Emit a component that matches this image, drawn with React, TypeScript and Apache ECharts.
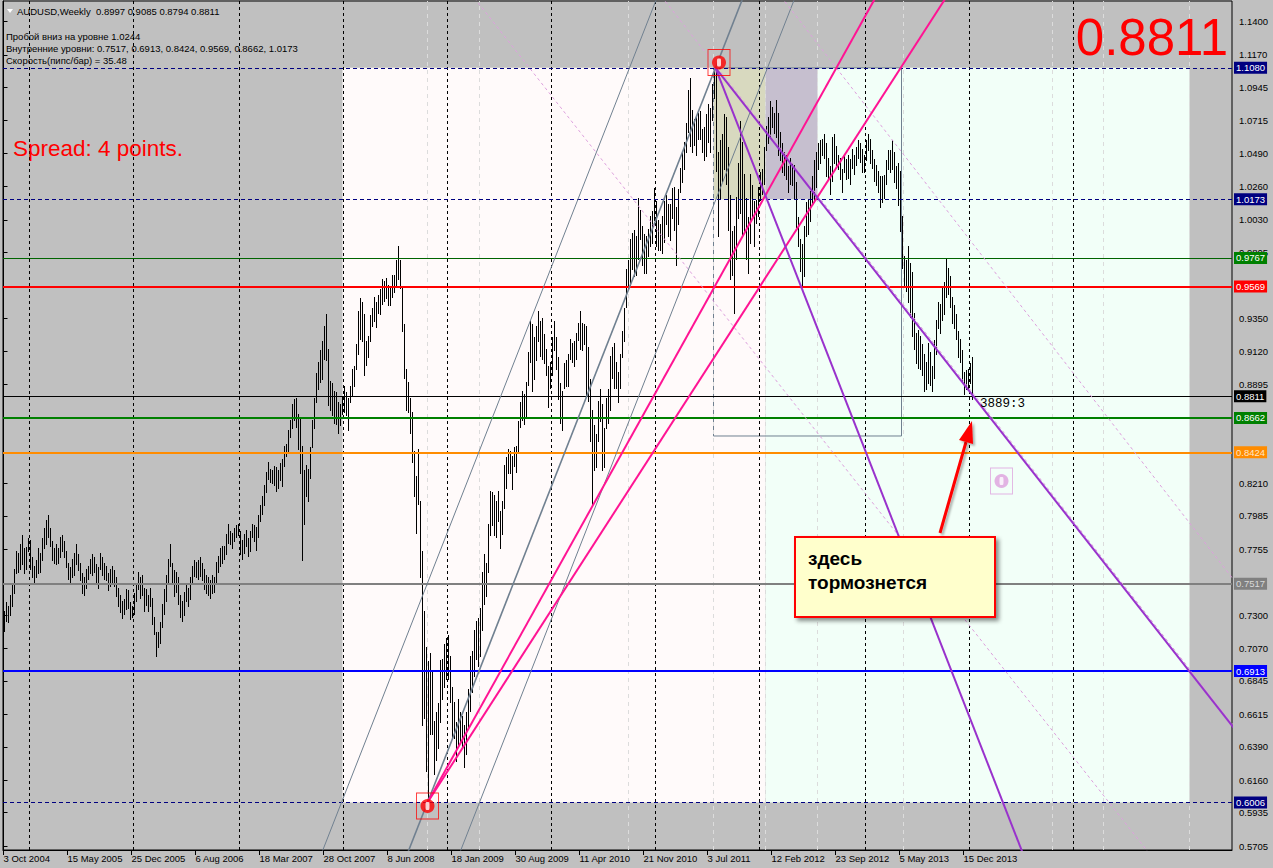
import React, { useEffect, useRef } from 'react';
import * as echarts from 'echarts';

const FONT = "'Liberation Sans', Arial, sans-serif";

// ---------------- axis labels ----------------
const dateLabels = ['3 Oct 2004', '15 May 2005', '25 Dec 2005', '6 Aug 2006', '18 Mar 2007', '28 Oct 2007', '8 Jun 2008', '18 Jan 2009', '30 Aug 2009', '11 Apr 2010', '21 Nov 2010', '3 Jul 2011', '12 Feb 2012', '23 Sep 2012', '5 May 2013', '15 Dec 2013'];
const dateLabelBars = [0, 32, 64, 96, 128, 160, 192, 224, 256, 288, 320, 352, 384, 416, 448, 480];
const yearStartBars = [13, 65, 118, 170, 222, 274, 326, 378, 431, 483, 535];
const cycleBars = [212, 238, 312.5, 355, 381, 407, 450, 524.5, 550, 593];
const priceTicks = [1.14, 1.117, 1.0945, 1.0715, 1.049, 1.026, 1.003, 0.9805, 0.935, 0.912, 0.8895, 0.821, 0.7985, 0.7755, 0.73, 0.707, 0.6845, 0.6615, 0.639, 0.616, 0.5935, 0.5705];

// ---------------- horizontal levels ----------------
const levelPrices = [1.108, 1.0173, 0.9767, 0.9569, 0.8811, 0.8662, 0.8424, 0.7517, 0.6913, 0.6006];
const levelStyles = [
  { color: '#000080', width: 1, dash: true, bg: '#000080', fg: '#ffffff' },
  { color: '#000080', width: 1, dash: true, bg: '#000080', fg: '#ffffff' },
  { color: '#006400', width: 1, dash: false, bg: '#008000', fg: '#ffffff' },
  { color: '#ff0000', width: 2, dash: false, bg: '#ff0000', fg: '#ffffff' },
  { color: '#000000', width: 1, dash: false, bg: '#000000', fg: '#ffffff' },
  { color: '#008000', width: 2, dash: false, bg: '#008000', fg: '#ffffff' },
  { color: '#ff8c00', width: 2, dash: false, bg: '#ff8c00', fg: '#ffe6c8' },
  { color: '#808080', width: 2, dash: false, bg: '#808080', fg: '#d8d8d8' },
  { color: '#0000ff', width: 2, dash: false, bg: '#0000ff', fg: '#ffffff' },
  { color: '#000080', width: 1, dash: true, bg: '#000080', fg: '#ffffff' },
];

// ---------------- zones (bar range, price range) ----------------
const zoneBars = [[169.5, 381], [381, 593], [355, 381], [381, 407]];
const zonePrices = [[0.6006, 1.108], [0.6006, 1.108], [1.0173, 1.108], [1.0173, 1.108]];
const zoneColors = ['#fffafa', '#f2fff8', '#d8d9bf', '#c6bfcf'];
const boxBars = [355, 449];
const boxPrices = [0.8537, 1.108];

// ---------------- trend line anchors [bar, price] ----------------
const lineA = [[169, 0.6006], [313, 1.108]];
const lineB = [[212, 0.6006], [356, 1.108]];
const lineC = [[238, 0.6006], [382, 1.108]];
const fanM1 = [[212, 0.6006], [434.5, 1.1528]];
const fanM2 = [[212, 0.6006], [469.5, 1.1528]];
const fallP1 = [[356, 1.108], [509, 0.5678]];
const fallP2 = [[356, 1.108], [614, 0.6541]];
const chanDc = [[357, 1.108], [615, 0.6541]];
const chanDa = [[478, 0.7315], [571.5, 0.5678]];
const chanDb = [[392, 1.1514], [614, 0.7563]];

const redMarkers = [[357.75, 1.1117], [212, 0.5981]];
const plumMarkers = [[499, 0.8226]];

// ---------------- weekly bars [low, high] ----------------
const bars2004 = [[0.719, 0.733], [0.726, 0.739], [0.725, 0.736], [0.73, 0.744], [0.736, 0.751], [0.745, 0.762], [0.759, 0.774], [0.76, 0.773], [0.762, 0.779], [0.765, 0.785], [0.759, 0.776], [0.762, 0.777], [0.774, 0.783]];
const bars2005 = [[0.762, 0.782], [0.756, 0.77], [0.752, 0.764], [0.756, 0.768], [0.759, 0.776], [0.76, 0.773], [0.768, 0.783], [0.776, 0.79], [0.779, 0.796], [0.784, 0.799], [0.778, 0.79], [0.768, 0.781], [0.766, 0.776],
  [0.765, 0.779], [0.766, 0.776], [0.77, 0.784], [0.774, 0.785], [0.77, 0.781], [0.763, 0.774], [0.755, 0.766], [0.753, 0.763], [0.756, 0.769], [0.758, 0.773], [0.765, 0.779], [0.761, 0.772], [0.754, 0.766],
  [0.745, 0.759], [0.744, 0.756], [0.749, 0.762], [0.755, 0.764], [0.759, 0.769], [0.758, 0.772], [0.76, 0.77], [0.752, 0.765], [0.749, 0.763], [0.762, 0.773], [0.758, 0.77], [0.755, 0.766], [0.754, 0.764],
  [0.747, 0.759], [0.75, 0.762], [0.752, 0.764], [0.75, 0.761], [0.743, 0.756], [0.736, 0.749], [0.732, 0.744], [0.728, 0.74], [0.731, 0.741], [0.734, 0.748], [0.735, 0.747], [0.727, 0.739], [0.729, 0.736]];
const bars2006 = [[0.731, 0.745], [0.74, 0.752], [0.748, 0.76], [0.742, 0.756], [0.744, 0.758], [0.733, 0.749], [0.737, 0.748], [0.733, 0.744], [0.736, 0.749], [0.724, 0.742], [0.717, 0.729], [0.702, 0.718], [0.708, 0.718],
  [0.711, 0.725], [0.722, 0.738], [0.731, 0.748], [0.74, 0.758], [0.753, 0.769], [0.764, 0.779], [0.752, 0.766], [0.743, 0.761], [0.746, 0.76], [0.738, 0.756], [0.729, 0.744], [0.726, 0.74], [0.73, 0.746],
  [0.74, 0.752], [0.736, 0.749], [0.741, 0.756], [0.752, 0.764], [0.757, 0.768], [0.756, 0.767], [0.755, 0.768], [0.757, 0.77], [0.754, 0.766], [0.748, 0.762], [0.745, 0.758], [0.744, 0.756], [0.742, 0.754],
  [0.745, 0.758], [0.746, 0.756], [0.753, 0.767], [0.76, 0.771], [0.764, 0.776], [0.766, 0.778], [0.769, 0.778], [0.772, 0.786], [0.78, 0.793], [0.779, 0.788], [0.776, 0.787], [0.781, 0.79], [0.784, 0.792], [0.785, 0.793]];
const bars2007 = [[0.772, 0.788], [0.769, 0.782], [0.773, 0.786], [0.778, 0.789], [0.771, 0.783], [0.774, 0.788], [0.784, 0.793], [0.781, 0.792], [0.775, 0.791], [0.784, 0.799], [0.795, 0.806], [0.8, 0.812],
  [0.806, 0.82], [0.815, 0.829], [0.824, 0.836], [0.822, 0.831], [0.821, 0.83], [0.82, 0.833], [0.816, 0.832], [0.818, 0.83], [0.823, 0.835], [0.819, 0.838], [0.833, 0.847], [0.84, 0.848],
  [0.843, 0.858], [0.853, 0.865], [0.859, 0.876], [0.865, 0.879], [0.86, 0.88], [0.845, 0.869], [0.828, 0.866], [0.768, 0.847], [0.793, 0.83], [0.812, 0.834], [0.809, 0.831], [0.825, 0.846],
  [0.846, 0.865], [0.859, 0.88], [0.877, 0.897], [0.886, 0.905], [0.891, 0.913], [0.893, 0.919], [0.907, 0.93], [0.906, 0.938], [0.875, 0.914], [0.872, 0.892], [0.868, 0.89], [0.863, 0.885],
  [0.862, 0.884], [0.856, 0.877], [0.861, 0.876], [0.869, 0.881]];
const bars2008 = [[0.87, 0.888], [0.868, 0.884], [0.858, 0.88], [0.877, 0.888], [0.881, 0.9], [0.888, 0.902], [0.9, 0.917], [0.91, 0.94], [0.921, 0.949], [0.919, 0.946], [0.896, 0.938], [0.903, 0.919],
  [0.908, 0.923], [0.919, 0.937], [0.93, 0.942], [0.933, 0.95], [0.929, 0.946], [0.939, 0.951], [0.938, 0.955], [0.945, 0.962], [0.947, 0.961], [0.949, 0.963], [0.944, 0.958], [0.944, 0.956],
  [0.95, 0.965], [0.953, 0.965], [0.958, 0.975], [0.962, 0.985], [0.956, 0.975], [0.926, 0.957], [0.894, 0.931], [0.872, 0.9], [0.87, 0.891], [0.856, 0.88], [0.836, 0.87], [0.812, 0.843],
  [0.787, 0.826], [0.807, 0.845], [0.756, 0.809], [0.654, 0.774], [0.659, 0.733], [0.622, 0.708], [0.6006, 0.698], [0.648, 0.704], [0.648, 0.691], [0.62, 0.657], [0.63, 0.663], [0.638, 0.669],
  [0.656, 0.699], [0.672, 0.7], [0.68, 0.71], [0.686, 0.714]];
const bars2009 = [[0.686, 0.716], [0.67, 0.702], [0.646, 0.68], [0.645, 0.67], [0.629, 0.656], [0.64, 0.672], [0.643, 0.663], [0.638, 0.66], [0.625, 0.654], [0.634, 0.663], [0.653, 0.679], [0.664, 0.702],
  [0.677, 0.705], [0.688, 0.72], [0.7, 0.726], [0.695, 0.728], [0.702, 0.735], [0.72, 0.76], [0.738, 0.772], [0.743, 0.766], [0.76, 0.793], [0.785, 0.816], [0.792, 0.815], [0.785, 0.813],
  [0.784, 0.809], [0.795, 0.816], [0.776, 0.802], [0.786, 0.809], [0.804, 0.834], [0.818, 0.839], [0.828, 0.845], [0.828, 0.843], [0.817, 0.84], [0.833, 0.846], [0.829, 0.847], [0.843, 0.864],
  [0.86, 0.877], [0.865, 0.885], [0.862, 0.883], [0.866, 0.891], [0.889, 0.912], [0.905, 0.933], [0.885, 0.931], [0.893, 0.922], [0.906, 0.93], [0.919, 0.94], [0.909, 0.933], [0.907, 0.935],
  [0.904, 0.924], [0.896, 0.914], [0.874, 0.902], [0.887, 0.905]];
const bars2010 = [[0.896, 0.922], [0.913, 0.933], [0.9, 0.922], [0.879, 0.908], [0.863, 0.89], [0.858, 0.885], [0.887, 0.904], [0.888, 0.906], [0.888, 0.91], [0.907, 0.921], [0.905, 0.918], [0.902, 0.919],
  [0.907, 0.925], [0.92, 0.932], [0.914, 0.94], [0.913, 0.932], [0.917, 0.931], [0.882, 0.93], [0.878, 0.915], [0.85, 0.893], [0.807, 0.872], [0.83, 0.861], [0.832, 0.855], [0.85, 0.878],
  [0.864, 0.886], [0.83, 0.876], [0.832, 0.859], [0.859, 0.88], [0.863, 0.886], [0.872, 0.909], [0.894, 0.915], [0.887, 0.918], [0.887, 0.905], [0.877, 0.898], [0.887, 0.91], [0.908, 0.926],
  [0.919, 0.942], [0.943, 0.969], [0.955, 0.975], [0.958, 0.99], [0.969, 0.994], [0.964, 0.996], [0.965, 0.992], [0.976, 1.018], [0.99, 1.01], [0.972, 0.999], [0.966, 0.993], [0.966, 0.992],
  [0.978, 0.997], [0.985, 1.006], [0.987, 1.009], [1.003, 1.025]];
const bars2011 = [[0.985, 1.016], [0.982, 1.003], [0.982, 1.0], [0.98, 1.006], [0.988, 1.016], [1.0, 1.02], [0.992, 1.014], [0.989, 1.014], [1.004, 1.025], [0.996, 1.026], [0.972, 1.012], [1.0, 1.024],
  [1.022, 1.039], [1.029, 1.049], [1.038, 1.057], [1.05, 1.07], [1.064, 1.093], [1.054, 1.101], [1.05, 1.079], [1.055, 1.073], [1.048, 1.074], [1.059, 1.077], [1.059, 1.078], [1.05, 1.066],
  [1.044, 1.067], [1.047, 1.076], [1.057, 1.083], [1.05, 1.08], [1.072, 1.097], [1.087, 1.106], [1.037, 1.108], [0.992, 1.05], [1.018, 1.058], [1.03, 1.062], [1.038, 1.076], [1.028, 1.074],
  [0.996, 1.053], [0.962, 1.02], [0.965, 0.995], [0.939, 0.999], [0.976, 1.019], [1.004, 1.042], [1.008, 1.071], [0.992, 1.057], [0.995, 1.035], [0.976, 1.018], [0.966, 1.005], [0.987, 1.035],
  [1.006, 1.027], [0.985, 1.016], [1.001, 1.017], [1.006, 1.026]];
const bars2012 = [[1.017, 1.036], [1.021, 1.038], [1.028, 1.053], [1.051, 1.068], [1.056, 1.074], [1.061, 1.085], [1.067, 1.081], [1.063, 1.077], [1.06, 1.086], [1.048, 1.077], [1.044, 1.064], [1.036, 1.056],
  [1.034, 1.05], [1.031, 1.048], [1.022, 1.04], [1.028, 1.046], [1.027, 1.042], [1.018, 1.041], [0.998, 1.029], [0.985, 1.005], [0.968, 0.99], [0.958, 0.986], [0.964, 0.999], [0.992, 1.015],
  [0.993, 1.017], [1.002, 1.023], [1.014, 1.033], [1.015, 1.044], [1.026, 1.05], [1.038, 1.056], [1.042, 1.058], [1.048, 1.059], [1.046, 1.062], [1.033, 1.056], [1.031, 1.046], [1.021, 1.04],
  [1.03, 1.06], [1.042, 1.062], [1.041, 1.054], [1.038, 1.048], [1.031, 1.046], [1.022, 1.038], [1.036, 1.048], [1.031, 1.045], [1.032, 1.048], [1.028, 1.045], [1.039, 1.052], [1.035, 1.048],
  [1.041, 1.053], [1.046, 1.058], [1.043, 1.056], [1.036, 1.052], [1.036, 1.048]];
const bars2013 = [[1.044, 1.058], [1.051, 1.062], [1.042, 1.059], [1.039, 1.051], [1.03, 1.045], [1.027, 1.041], [1.022, 1.037], [1.012, 1.033], [1.015, 1.033], [1.018, 1.034], [1.028, 1.044], [1.038, 1.051],
  [1.036, 1.051], [1.038, 1.058], [1.029, 1.05], [1.025, 1.04], [1.013, 1.042], [0.995, 1.037], [0.97, 1.006], [0.958, 0.978], [0.954, 0.975], [0.946, 0.985], [0.936, 0.973], [0.923, 0.967],
  [0.914, 0.939], [0.904, 0.925], [0.901, 0.927], [0.9, 0.923], [0.896, 0.917], [0.885, 0.91], [0.886, 0.905], [0.89, 0.918], [0.889, 0.912], [0.885, 0.902], [0.894, 0.92], [0.91, 0.934],
  [0.928, 0.946], [0.925, 0.945], [0.934, 0.957], [0.938, 0.96], [0.95, 0.976], [0.952, 0.97], [0.943, 0.964], [0.932, 0.95], [0.928, 0.944], [0.921, 0.938], [0.908, 0.926], [0.905, 0.921],
  [0.892, 0.913], [0.883, 0.898], [0.886, 0.899], [0.886, 0.9]];
const bars2014 = [[0.89, 0.904], [0.8794, 0.9085]];

const allBars = [...bars2004, ...bars2005, ...bars2006, ...bars2007, ...bars2008, ...bars2009, ...bars2010, ...bars2011, ...bars2012, ...bars2013, ...bars2014];

function extendLine(pts: number[][], mode: 'both' | 'ray'): number[][] {
  const [a, b] = pts;
  const k = (b[1] - a[1]) / (b[0] - a[0]);
  const x0 = mode === 'both' ? -60 : a[0];
  const x1 = 720;
  return [[x0, a[1] + k * (x0 - a[0])], [x1, a[1] + k * (x1 - a[0])]];
}

function trendSeries(pts: number[][], mode: 'both' | 'ray', color: string, width: number, dash: any, z: number) {
  return {
    type: 'line', data: extendLine(pts, mode), showSymbol: false, symbol: 'none', silent: true, clip: true, z,
    lineStyle: { color, width, type: dash }, emphasis: { disabled: true },
  };
}

export default function App() {
  const ref = useRef<HTMLDivElement>(null);
  useEffect(() => {
    document.body.style.margin = '0';
    if (!ref.current) return;
    const chart = echarts.init(ref.current, null, { renderer: 'svg' });
    const barData = allBars.map((b, i) => [i, b[0], b[1]]);

    const zoneData: any[] = zoneBars.map((zb, i) => [
      { xAxis: zb[0], yAxis: zonePrices[i][0], itemStyle: { color: zoneColors[i] } },
      { xAxis: zb[1], yAxis: zonePrices[i][1] },
    ]);
    zoneData.push([
      { xAxis: boxBars[0], yAxis: boxPrices[0], itemStyle: { color: 'rgba(0,0,0,0)', borderColor: '#708090', borderWidth: 1 } },
      { xAxis: boxBars[1], yAxis: boxPrices[1] },
    ]);

    const gridLines = [
      ...yearStartBars.map((b) => ({ xAxis: b, lineStyle: { color: '#000', width: 1, type: [3, 3] } })),
      ...cycleBars.map((b) => ({ xAxis: b, lineStyle: { color: '#dcdcdc', width: 1, type: [4, 4] } })),
    ];

    const levelLines = levelPrices.map((p, i) => {
      const s = levelStyles[i];
      return {
        yAxis: p,
        lineStyle: { color: s.color, width: s.width, type: s.dash ? [4, 3] : 'solid' },
        label: {
          show: true, position: 'end', distance: 2, formatter: p.toFixed(4),
          backgroundColor: s.bg, color: s.fg, padding: [1, 2, 0, 2], fontSize: 9.5, fontFamily: FONT, lineHeight: 11,
        },
      };
    });

    const option: any = {
      animation: false,
      backgroundColor: '#c0c0c0',
      grid: { left: 3, right: 41, top: 1, bottom: 18, show: true, borderColor: '#000', borderWidth: 1, backgroundColor: 'transparent' },
      xAxis: {
        type: 'value', min: -0.25, max: 614.25,
        axisLine: { show: true, onZero: false, lineStyle: { color: '#000', width: 1 } },
        axisTick: { show: true, length: 5, customValues: dateLabelBars, lineStyle: { color: '#000' } },
        axisLabel: {
          customValues: dateLabelBars, align: 'left', margin: 3, color: '#000', fontSize: 9.5, fontFamily: FONT,
          formatter: (v: number) => { const k = dateLabelBars.indexOf(Math.round(v)); return k >= 0 ? dateLabels[k] : ''; },
        },
        splitLine: { show: false },
      },
      yAxis: {
        type: 'value', position: 'right', min: 0.56774, max: 1.15416, scale: true,
        axisLine: { show: true, lineStyle: { color: '#000', width: 1 } },
        axisTick: { show: true, length: 4, customValues: priceTicks, lineStyle: { color: '#000' } },
        axisLabel: { customValues: priceTicks, margin: 7, color: '#000', fontSize: 9.5, fontFamily: FONT, formatter: (v: number) => v.toFixed(4) },
        splitLine: { show: false },
      },
      series: [
        { type: 'line', data: [], silent: true, z: 1, markArea: { silent: true, z: 1, precision: 6, data: zoneData } },
        { type: 'line', data: [], silent: true, z: 2, markLine: { silent: true, z: 2, precision: 6, symbol: ['none', 'none'], label: { show: false }, data: gridLines } },
        {
          type: 'custom', data: barData, z: 3, silent: true, clip: true, encode: { x: 0, y: [1, 2] },
          renderItem: (params: any, api: any) => {
            const i = api.value(0);
            const top = api.coord([i, api.value(2)]);
            const bot = api.coord([i, api.value(1)]);
            const x = Math.round(top[0]) + 0.5;
            return { type: 'line', shape: { x1: x, y1: Math.round(top[1]), x2: x, y2: Math.round(bot[1]) + 1 }, style: { stroke: '#000', lineWidth: 1 } };
          },
        },
        { type: 'line', data: [], silent: true, z: 4, markLine: { silent: true, z: 4, precision: 6, symbol: ['none', 'none'], data: levelLines } },
        trendSeries(lineA, 'both', '#708090', 1, 'solid', 5),
        trendSeries(lineB, 'both', '#708090', 1.6, 'solid', 5),
        trendSeries(lineC, 'both', '#708090', 1, 'solid', 5),
        trendSeries(chanDa, 'both', '#dda0dd', 1, [3, 3], 5),
        trendSeries(chanDb, 'both', '#dda0dd', 1, [3, 3], 5),
        trendSeries(chanDc, 'both', '#dda0dd', 1, [3, 3], 5),
        trendSeries(fanM1, 'ray', '#ff1493', 2, 'solid', 6),
        trendSeries(fanM2, 'ray', '#ff1493', 2, 'solid', 6),
        trendSeries(fallP1, 'ray', '#9932cc', 2, 'solid', 6),
        trendSeries(fallP2, 'ray', '#9932cc', 2, 'solid', 6),
        { type: 'scatter', data: redMarkers, z: 7, silent: true, symbol: 'rect', symbolSize: [22, 26], itemStyle: { color: 'rgba(0,0,0,0)', borderColor: '#ff0000', borderWidth: 1 } },
        { type: 'scatter', data: redMarkers, z: 8, silent: true, symbol: 'circle', symbolSize: 14, itemStyle: { color: '#ff0000' } },
        { type: 'scatter', data: redMarkers, z: 9, silent: true, symbol: 'roundRect', symbolSize: [4, 8], itemStyle: { color: '#ffffff' } },
        { type: 'scatter', data: plumMarkers, z: 7, silent: true, symbol: 'rect', symbolSize: [22, 26], itemStyle: { color: 'rgba(0,0,0,0)', borderColor: '#dda0dd', borderWidth: 1 } },
        { type: 'scatter', data: plumMarkers, z: 8, silent: true, symbol: 'circle', symbolSize: 14, itemStyle: { color: '#dda0dd' } },
        { type: 'scatter', data: plumMarkers, z: 9, silent: true, symbol: 'roundRect', symbolSize: [4, 8], itemStyle: { color: '#ffffff' } },
      ],
      graphic: {
        elements: [
          { type: 'polygon', z: 100, shape: { points: [[7, 9], [13, 9], [10, 13]] }, style: { fill: '#ffffff' } },
          { type: 'text', z: 100, x: 17, y: 11.5, style: { text: 'AUDUSD,Weekly  0.8997 0.9085 0.8794 0.8811', fill: '#000', fontSize: 9.5, fontFamily: FONT, verticalAlign: 'middle' } },
          { type: 'text', z: 100, x: 6, y: 36, style: { text: 'Пробой вниз на уровне 1.0244', fill: '#000', fontSize: 9.5, fontFamily: FONT, verticalAlign: 'middle' } },
          { type: 'text', z: 100, x: 6, y: 48, style: { text: 'Внутренние уровни: 0.7517, 0.6913, 0.8424, 0.9569, 0.8662, 1.0173', fill: '#000', fontSize: 9.5, fontFamily: FONT, verticalAlign: 'middle' } },
          { type: 'text', z: 100, x: 6, y: 60, style: { text: 'Скорость(пипс/бар) = 35.48', fill: '#000', fontSize: 9.5, fontFamily: FONT, verticalAlign: 'middle' } },
          { type: 'text', z: 100, x: 13, y: 148, style: { text: 'Spread: 4 points.', fill: '#ff0000', fontSize: 22.5, fontFamily: FONT, verticalAlign: 'middle' } },
          { type: 'text', z: 100, x: 1228, y: 37, style: { text: '0.8811', fill: '#ff0000', fontSize: 51, fontFamily: FONT, align: 'right', verticalAlign: 'middle' } },
          { type: 'text', z: 100, x: 980, y: 404, style: { text: '3889:3', fill: '#000', fontSize: 12.5, fontFamily: "'Liberation Mono', monospace", verticalAlign: 'middle' } },
          { type: 'rect', z: 100, shape: { x: 795, y: 537, width: 200, height: 80 }, style: { fill: '#ffffcc', stroke: '#ff0000', lineWidth: 2, shadowBlur: 4, shadowOffsetX: 3, shadowOffsetY: 3, shadowColor: 'rgba(0,0,0,0.45)' } },
          { type: 'text', z: 101, x: 808, y: 558, style: { text: 'здесь', fill: '#000', fontSize: 19, fontWeight: 'bold', fontFamily: FONT, verticalAlign: 'middle' } },
          { type: 'text', z: 101, x: 808, y: 582, style: { text: 'тормознется', fill: '#000', fontSize: 19, fontWeight: 'bold', fontFamily: FONT, verticalAlign: 'middle' } },
          { type: 'polyline', z: 100, shape: { points: [[940, 533], [966, 442]] }, style: { stroke: '#ff0000', lineWidth: 3, shadowBlur: 2, shadowOffsetX: 2, shadowOffsetY: 2, shadowColor: 'rgba(0,0,0,0.3)' } },
          { type: 'polygon', z: 100, shape: { points: [[972, 421], [973, 444], [959, 440]] }, style: { fill: '#ff0000', shadowBlur: 2, shadowOffsetX: 2, shadowOffsetY: 2, shadowColor: 'rgba(0,0,0,0.3)' } },
        ],
      },
    };
    chart.setOption(option);
    return () => chart.dispose();
  }, []);
  return <div ref={ref} style={{ width: 1273, height: 868 }} />;
}
